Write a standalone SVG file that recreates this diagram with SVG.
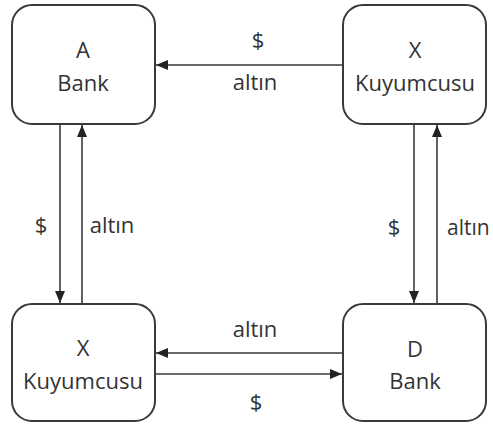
<svg xmlns="http://www.w3.org/2000/svg" width="493" height="426" viewBox="0 0 493 426">
  <style>
    .box { fill: #ffffff; stroke: #3a3a3a; stroke-width: 2; }
    .lbl { font-family: "Open Sans", "Noto Sans", sans-serif; font-size: 22px; fill: #333333; text-anchor: middle; }
    .edge { stroke: #3a3a3a; stroke-width: 1.6; fill: none; marker-end: url(#head); }
  </style>
  <defs>
    <marker id="head" viewBox="0 0 12 10" refX="12" refY="5" markerWidth="12" markerHeight="10" markerUnits="userSpaceOnUse" orient="auto">
      <path d="M0,0 L12,5 L0,10 Z" fill="#222222"/>
    </marker>
  </defs>
  <rect width="493" height="426" fill="#ffffff"/>

  <g id="connectors">
    <line class="edge" x1="343" y1="65" x2="156" y2="65"/>
    <line class="edge" x1="60" y1="124" x2="60" y2="303"/>
    <line class="edge" x1="82" y1="304" x2="82" y2="125"/>
    <line class="edge" x1="414" y1="124" x2="414" y2="303"/>
    <line class="edge" x1="437" y1="304" x2="437" y2="125"/>
    <line class="edge" x1="343" y1="353" x2="156" y2="353"/>
    <line class="edge" x1="155" y1="374" x2="342" y2="374"/>
    <text class="lbl" x="258" y="48">$</text>
    <text class="lbl" x="255" y="90">altın</text>
    <text class="lbl" x="41" y="233">$</text>
    <text class="lbl" x="112" y="233">altın</text>
    <text class="lbl" x="394" y="235">$</text>
    <text class="lbl" x="447" y="235" style="text-anchor:start;font-size:21px">altın</text>
    <text class="lbl" x="255" y="337">altın</text>
    <text class="lbl" x="256" y="410">$</text>
  </g>

  <g id="a-bank">
    <rect class="box" x="12" y="5" width="143" height="119" rx="20"/>
    <text class="lbl" x="83" y="58">A</text>
    <text class="lbl" x="83" y="91">Bank</text>
  </g>

  <g id="x-kuyumcusu-top">
    <rect class="box" x="343" y="5" width="143" height="119" rx="20"/>
    <text class="lbl" x="415" y="58">X</text>
    <text class="lbl" x="415" y="91">Kuyumcusu</text>
  </g>

  <g id="x-kuyumcusu-bottom">
    <rect class="box" x="12" y="304" width="143" height="117" rx="20"/>
    <text class="lbl" x="83" y="356">X</text>
    <text class="lbl" x="83" y="389">Kuyumcusu</text>
  </g>

  <g id="d-bank">
    <rect class="box" x="343" y="304" width="143" height="117" rx="20"/>
    <text class="lbl" x="415" y="357">D</text>
    <text class="lbl" x="415" y="389">Bank</text>
  </g>
</svg>
